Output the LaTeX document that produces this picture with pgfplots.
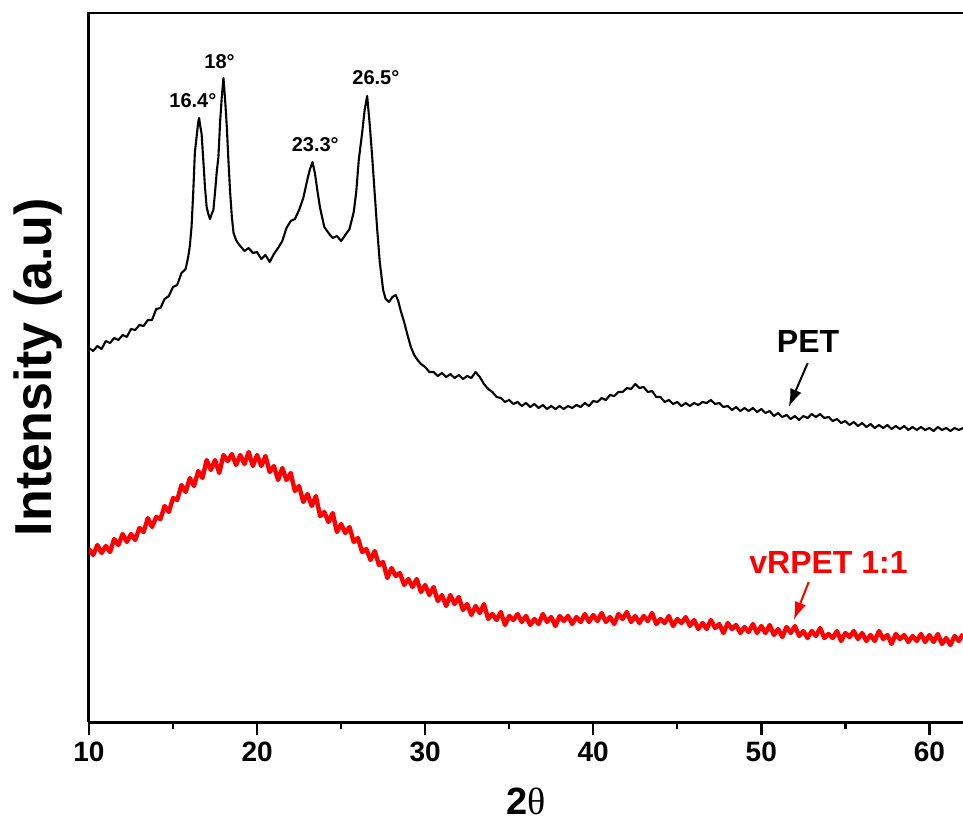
\documentclass[border=0pt]{standalone}
\usepackage{pgfplots}
\pgfplotsset{compat=1.18}
\usepackage{fontspec}
\setmainfont{Liberation Sans}
\newfontfamily\seriffont{Liberation Serif}
\usetikzlibrary{arrows.meta}
\definecolor{xrdred}{RGB}{255,0,0}

\begin{document}
\begin{tikzpicture}
\useasboundingbox (-44.5pt,-49.5pt) rectangle (437pt,361pt);
\begin{axis}[
  at={(0,0)}, anchor=south west,
  scale only axis, width=437pt, height=355pt,
  xmin=10, xmax=62, ymin=0, ymax=710,
  axis x line*=bottom, axis y line*=left,
  axis line style={line width=1.5pt},
  xtick={10,20,30,40,50,60}, minor x tick num=1,
  ytick=\empty,
  tick align=outside,
  major tick length=6.5pt, minor tick length=3.5pt,
  every tick/.style={line width=1.2pt, black},
  /pgf/number format/assume math mode=true,
  xticklabel style={font=\bfseries\fontsize{14}{14}\selectfont},
  every axis x label/.style={at={(rel axis cs:0.5,0)}, yshift=-39.5pt, anchor=center},
  every axis y label/.style={at={(rel axis cs:0,0.5)}, xshift=-25.5pt, rotate=90, anchor=center},
  xlabel={\fontsize{19}{19}\selectfont{\bfseries 2}{\seriffont θ}},
  ylabel={\fontsize{26}{26}\selectfont\bfseries Intensity (a.u)},
  clip=true,
]
% PET
\addplot[black, line width=1.05pt, line join=round] coordinates {
(10.00,374)(10.25,371)(10.50,376)(10.75,373)(11.00,381)(11.25,379)(11.50,384)(11.75,382)
(12.00,387)(12.25,385)(12.50,393)(12.75,392)(13.00,397)(13.25,396)(13.50,402)(13.75,402)
(14.00,413)(14.25,414)(14.50,423)(14.75,426)(15.00,435)(15.25,437)(15.50,449)(15.75,453)
(15.90,465)(16.00,476)(16.10,495)(16.20,529)(16.30,570)(16.40,585)(16.50,600)(16.55,604)
(16.60,598)(16.70,588)(16.80,562)(16.90,535)(17.00,515)(17.10,508)(17.20,503)(17.30,508)
(17.40,512)(17.50,530)(17.60,550)(17.70,565)(17.80,600)(17.90,625)(18.00,644)(18.10,622)
(18.20,595)(18.30,560)(18.40,529)(18.50,505)(18.60,489)(18.75,482)(18.90,478)(19.00,476)
(19.25,471)(19.50,474)(19.75,469)(20.00,470)(20.25,463)(20.50,467)(20.75,460)(21.00,468)
(21.25,474)(21.50,481)(21.75,494)(22.00,501)(22.25,503)(22.50,512)(22.75,524)(23.00,543)
(23.15,553)(23.30,560)(23.45,548)(23.60,530)(23.75,514)(24.00,495)(24.25,489)(24.50,484)
(24.75,486)(25.00,481)(25.25,487)(25.50,493)(25.75,510)(25.90,530)(26.05,562)(26.25,589)
(26.40,612)(26.55,626)(26.70,598)(26.85,565)(27.00,528)(27.15,492)(27.30,460)(27.50,432)
(27.65,423)(27.85,420)(28.05,425)(28.25,427)(28.40,421)(28.55,411)(28.75,400)(28.95,387)
(29.15,375)(29.35,367)(29.55,362)(29.75,358)(30.00,355)(30.25,350)(30.50,350)(30.75,346)
(31.00,349)(31.25,345)(31.50,348)(31.75,344)(32.00,347)(32.25,343)(32.50,346)(32.75,344)
(33.00,350)(33.25,345)(33.50,338)(33.75,333)(34.00,330)(34.25,325)(34.50,324)(34.75,320)
(35.00,322)(35.25,318)(35.50,320)(35.75,316)(36.00,319)(36.25,315)(36.50,318)(36.75,314)
(37.00,317)(37.25,313)(37.50,316)(37.75,313)(38.00,316)(38.25,313)(38.50,316)(38.75,314)
(39.00,317)(39.25,315)(39.50,319)(39.75,316)(40.00,321)(40.25,320)(40.50,324)(40.75,322)
(41.00,327)(41.25,326)(41.50,330)(41.75,330)(42.00,334)(42.25,333)(42.50,338)(42.75,334)
(43.00,335)(43.25,330)(43.50,331)(43.75,325)(44.00,325)(44.25,320)(44.50,322)(44.75,318)
(45.00,320)(45.25,316)(45.50,319)(45.75,316)(46.00,319)(46.25,317)(46.50,320)(46.75,319)
(47.00,322)(47.25,318)(47.50,319)(47.75,315)(48.00,316)(48.25,312)(48.50,315)(48.75,311)
(49.00,314)(49.25,311)(49.50,314)(49.75,310)(50.00,313)(50.25,309)(50.50,311)(50.75,306)
(51.00,309)(51.25,305)(51.50,307)(51.75,303)(52.00,306)(52.25,302)(52.50,306)(52.75,304)
(53.00,308)(53.25,305)(53.50,308)(53.75,304)(54.00,305)(54.25,301)(54.50,303)(54.75,299)
(55.00,301)(55.25,297)(55.50,300)(55.75,296)(56.00,299)(56.25,295)(56.50,298)(56.75,294)
(57.00,297)(57.25,294)(57.50,297)(57.75,293)(58.00,296)(58.25,293)(58.50,296)(58.75,292)
(59.00,295)(59.25,292)(59.50,295)(59.75,292)(60.00,294)(60.25,291)(60.50,295)(60.75,292)
(61.00,294)(61.25,291)(61.50,294)(61.75,292)(62.00,294)
};
% vRPET 1:1
\addplot[xrdred, line width=2.2pt, line join=round] coordinates {
(10.00,173)(10.25,167)(10.50,177)(10.75,169)(11.00,176)(11.25,170)(11.50,183)(11.75,177)
(12.00,188)(12.25,180)(12.50,188)(12.75,182)(13.00,194)(13.25,190)(13.50,204)(13.75,195)
(14.00,205)(14.25,203)(14.50,216)(14.75,210)(15.00,224)(15.25,222)(15.50,237)(15.75,230)
(16.00,244)(16.25,236)(16.50,251)(16.75,244)(17.00,262)(17.25,252)(17.50,262)(17.75,249)
(18.00,267)(18.25,261)(18.50,268)(18.75,257)(19.00,267)(19.25,258)(19.50,270)(19.75,256)
(20.00,267)(20.25,256)(20.50,266)(20.75,250)(21.00,256)(21.25,242)(21.50,254)(21.75,242)
(22.00,249)(22.25,231)(22.50,236)(22.75,220)(23.00,228)(23.25,216)(23.50,226)(23.75,206)
(24.00,210)(24.25,200)(24.50,209)(24.75,190)(25.00,198)(25.25,189)(25.50,195)(25.75,180)
(26.00,184)(26.25,170)(26.50,173)(26.75,162)(27.00,171)(27.25,157)(27.50,160)(27.75,144)
(28.00,154)(28.25,146)(28.50,149)(28.75,137)(29.00,143)(29.25,135)(29.50,143)(29.75,130)
(30.00,137)(30.25,127)(30.50,135)(30.75,121)(31.00,127)(31.25,116)(31.50,127)(31.75,118)
(32.00,125)(32.25,112)(32.50,118)(32.75,107)(33.00,116)(33.25,109)(33.50,118)(33.75,103)
(34.00,108)(34.25,102)(34.50,110)(34.75,97)(35.00,106)(35.25,102)(35.50,108)(35.75,100)
(36.00,106)(36.25,97)(36.50,103)(36.75,98)(37.00,108)(37.25,100)(37.50,105)(37.75,96)
(38.00,106)(38.25,101)(38.50,106)(38.75,98)(39.00,105)(39.25,100)(39.50,108)(39.75,100)
(40.00,107)(40.25,101)(40.50,109)(40.75,100)(41.00,105)(41.25,98)(41.50,108)(41.75,103)
(42.00,110)(42.25,100)(42.50,106)(42.75,99)(43.00,106)(43.25,101)(43.50,109)(43.75,98)
(44.00,103)(44.25,99)(44.50,106)(44.75,96)(45.00,103)(45.25,99)(45.50,105)(45.75,96)
(46.00,102)(46.25,93)(46.50,99)(46.75,93)(47.00,102)(47.25,94)(47.50,98)(47.75,89)
(48.00,99)(48.25,93)(48.50,97)(48.75,89)(49.00,95)(49.25,90)(49.50,98)(49.75,89)
(50.00,96)(50.25,89)(50.50,97)(50.75,87)(51.00,93)(51.25,85)(51.50,95)(51.75,89)
(52.00,96)(52.25,86)(52.50,91)(52.75,84)(53.00,91)(53.25,86)(53.50,94)(53.75,84)
(54.00,88)(54.25,84)(54.50,91)(54.75,81)(55.00,89)(55.25,85)(55.50,91)(55.75,83)
(56.00,89)(56.25,81)(56.50,87)(56.75,81)(57.00,91)(57.25,83)(57.50,87)(57.75,78)
(58.00,88)(58.25,83)(58.50,87)(58.75,80)(59.00,86)(59.25,81)(59.50,88)(59.75,80)
(60.00,87)(60.25,80)(60.50,88)(60.75,78)(61.00,84)(61.25,77)(61.50,86)(61.75,81)
(62.00,88)
};
% top frame line
\draw[line width=1.5pt] (rel axis cs:0,1) -- (rel axis cs:1,1);
% peak labels
\node[font=\bfseries\fontsize{10}{10}\selectfont] at (axis cs:16.18,621) {16.4°};
\node[font=\bfseries\fontsize{10}{10}\selectfont] at (axis cs:17.77,660) {18°};
\node[font=\bfseries\fontsize{10}{10}\selectfont] at (axis cs:23.46,577) {23.3°};
\node[font=\bfseries\fontsize{10}{10}\selectfont] at (axis cs:27.07,644) {26.5°};
% series labels
\node[font=\bfseries\fontsize{16}{16}\selectfont] at (axis cs:52.78,381) {PET};
\draw[black, line width=1pt, -{Latex[length=9pt,width=6pt]}] (axis cs:52.76,359) -- (axis cs:51.63,315);
\node[font=\bfseries\fontsize{16}{16}\selectfont, text=xrdred] at (axis cs:54.0,160) {vRPET 1:1};
\draw[xrdred, line width=1pt, -{Latex[length=9pt,width=6pt]}] (axis cs:52.82,140) -- (axis cs:51.93,102);
\end{axis}
\end{tikzpicture}
\end{document}
